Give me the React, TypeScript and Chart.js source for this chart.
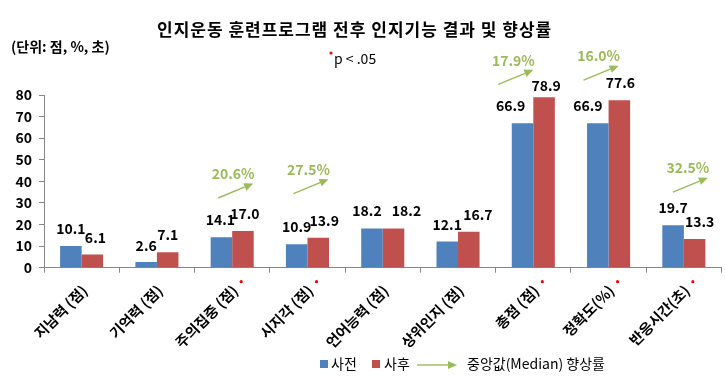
import React, { useEffect, useRef } from 'react';
import { Chart, registerables } from 'chart.js';

Chart.register(...registerables);

const categories = ['지남력 (점)', '기억력 (점)', '주의집중 (점)', '시지각 (점)', '언어능력 (점)', '상위인지 (점)', '총점 (점)', '정확도(%)', '반응시간(초)'];
const preValues = [10.1, 2.6, 14.1, 10.9, 18.2, 12.1, 66.9, 66.9, 19.7];
const postValues = [6.1, 7.1, 17.0, 13.9, 18.2, 16.7, 78.9, 77.6, 13.3];
const medianRates: (number | null)[] = [null, null, 20.6, 27.5, null, null, 17.9, 16.0, 32.5];
const significant = [false, false, true, true, false, false, true, true, true];
const seriesNames = ['사전', '사후'];
const yMin = 0;
const yMax = 80;
const yStep = 10;

const TITLE = '인지운동 훈련프로그램 전후 인지기능 결과 및 향상률';
const UNIT_NOTE = '(단위: 점, %, 초)';
const P_NOTE = 'p < .05';
const RATE_LEGEND = '중앙값(Median) 향상률';

// layout of the arrow annotations (pixel offsets from category centre / bar top)
const arrowLayout: Record<number, { dx: number; lift: number }> = {
  2: { dx: -14, lift: 33 },
  3: { dx: -14, lift: 44 },
  6: { dx: -35, lift: 13 },
  7: { dx: -25, lift: 20 },
  8: { dx: -11, lift: 33 },
};
// manual nudges of the value labels (pixels), as in the original
const labelNudgeX = [
  [0, 0, -1, 0, -5, 0, -12, -10, 0],
  [3, 0, 2, 6, 13, 9, 2, 1, 5],
];
const labelNudgeY = [
  [0, 1, 0, 0, 0, 0, 0, 0, 0],
  [0, 0, 0, 0, 0, 0, 6, 0, 0],
];

const BLUE = '#4F81BD';
const RED = '#C0504D';
const GREEN = '#9BBB59';
const AXIS = '#868686';
const FONT = '"Noto Sans CJK KR", "Noto Sans", sans-serif';

function drawArrow(ctx: CanvasRenderingContext2D, sx: number, sy: number, ex: number, ey: number) {
  ctx.save();
  ctx.strokeStyle = GREEN;
  ctx.fillStyle = GREEN;
  ctx.lineWidth = 1.4;
  const ang = Math.atan2(ey - sy, ex - sx);
  const headLen = 9;
  const hx = ex - Math.cos(ang) * headLen;
  const hy = ey - Math.sin(ang) * headLen;
  ctx.beginPath();
  ctx.moveTo(sx, sy);
  ctx.lineTo(hx, hy);
  ctx.stroke();
  ctx.beginPath();
  ctx.moveTo(ex, ey);
  ctx.lineTo(hx + Math.sin(ang) * 4, hy - Math.cos(ang) * 4);
  ctx.lineTo(hx - Math.sin(ang) * 4, hy + Math.cos(ang) * 4);
  ctx.closePath();
  ctx.fill();
  ctx.restore();
}

function redDot(ctx: CanvasRenderingContext2D, x: number, y: number) {
  ctx.save();
  ctx.fillStyle = '#FF0000';
  ctx.beginPath();
  ctx.arc(x, y, 1.6, 0, Math.PI * 2);
  ctx.fill();
  ctx.restore();
}

const overlayPlugin = {
  id: 'overlay',
  afterDraw(chart: any) {
    const { ctx, scales } = chart;
    const x = scales.x;
    const y = scales.y;
    ctx.save();

    // title
    ctx.fillStyle = '#000';
    ctx.font = `bold 17px ${FONT}`;
    ctx.textAlign = 'left';
    ctx.textBaseline = 'middle';
    (ctx as any).letterSpacing = '1px';
    ctx.fillText(TITLE, 157, 30);
    (ctx as any).letterSpacing = '0px';

    // unit note
    ctx.font = `bold 14px ${FONT}`;
    ctx.textAlign = 'left';
    ctx.fillText(UNIT_NOTE, 11, 47);

    // p note
    redDot(ctx, 331, 53);
    ctx.font = `14px ${FONT}`;
    ctx.fillStyle = '#000';
    ctx.fillText(P_NOTE, 334, 59);

    // data labels
    ctx.font = `bold 14px ${FONT}`;
    ctx.textAlign = 'center';
    ctx.textBaseline = 'alphabetic';
    ctx.fillStyle = '#000';
    chart.data.datasets.forEach((ds: any, di: number) => {
      const meta = chart.getDatasetMeta(di);
      meta.data.forEach((bar: any, i: number) => {
        const v = ds.data[i] as number;
        ctx.fillText(v.toFixed(1), bar.x + labelNudgeX[di][i], bar.y - 12 + labelNudgeY[di][i]);
      });
    });

    // median improvement arrows
    medianRates.forEach((r, i) => {
      if (r == null) return;
      const lay = arrowLayout[i];
      const cx = x.getPixelForValue(i);
      const top = y.getPixelForValue(Math.max(preValues[i], postValues[i]));
      const sx = cx + lay.dx;
      const sy = top - lay.lift;
      drawArrow(ctx, sx, sy, sx + 35, sy - 14.5);
      ctx.font = `bold 14px ${FONT}`;
      ctx.fillStyle = GREEN;
      ctx.textAlign = 'center';
      ctx.textBaseline = 'middle';
      ctx.fillText(`${r.toFixed(1)}%`, sx + 15, sy - 24);
    });

    // significance markers on category labels
    significant.forEach((s, i) => {
      if (!s) return;
      redDot(ctx, x.getPixelForValue(i) + 9, y.bottom + 14);
    });

    // legend
    const ly = 364;
    ctx.font = `14px ${FONT}`;
    ctx.textAlign = 'left';
    ctx.textBaseline = 'middle';
    ctx.fillStyle = BLUE;
    ctx.fillRect(320, ly - 4, 8, 8);
    ctx.fillStyle = '#000';
    ctx.fillText(seriesNames[0], 331, ly);
    ctx.fillStyle = RED;
    ctx.fillRect(372, ly - 4, 8, 8);
    ctx.fillStyle = '#000';
    ctx.fillText(seriesNames[1], 384, ly);
    drawArrow(ctx, 417, ly + 1, 457, ly + 1);
    ctx.fillStyle = '#000';
    ctx.fillText(RATE_LEGEND, 467, ly);

    ctx.restore();
  },
};

export default function App() {
  const ref = useRef<HTMLCanvasElement>(null);
  useEffect(() => {
    if (!ref.current) return;
    const chart = new Chart(ref.current, {
      type: 'bar',
      data: {
        labels: categories,
        datasets: [
          { label: seriesNames[0], data: preValues, backgroundColor: BLUE, categoryPercentage: 0.572, barPercentage: 1.0 },
          { label: seriesNames[1], data: postValues, backgroundColor: RED, categoryPercentage: 0.572, barPercentage: 1.0 },
        ],
      },
      options: {
        responsive: false,
        animation: false,
        layout: { padding: { top: 95, right: 3.5, bottom: 0, left: 0 } },
        plugins: {
          legend: { display: false },
          title: { display: false },
          tooltip: { enabled: false },
        },
        scales: {
          x: {
            grid: { display: true, drawOnChartArea: false, offset: true, tickLength: 5, color: AXIS },
            border: { display: true, color: AXIS },
            ticks: {
              maxRotation: 45,
              minRotation: 45,
              autoSkip: false,
              color: '#000',
              padding: 9,
              labelOffset: 3,
              font: { family: FONT, size: 14.5, weight: 'bold' },
            },
            afterFit: (scale: any) => {
              scale.height = 108.3;
            },
          },
          y: {
            min: yMin,
            max: yMax,
            grid: { display: true, drawOnChartArea: false, tickLength: 5, color: AXIS },
            border: { display: true, color: AXIS },
            ticks: {
              stepSize: yStep,
              color: '#000',
              padding: 7,
              font: { family: FONT, size: 14, weight: 'bold' },
            },
            afterFit: (scale: any) => {
              scale.width = 44;
            },
          },
        },
      },
      plugins: [overlayPlugin],
    });
    return () => chart.destroy();
  }, []);

  return (
    <div style={{ position: 'absolute', left: 0, top: 0, width: 725, height: 376, background: '#fff' }}>
      <canvas ref={ref} width={725} height={376} style={{ display: 'block' }} />
    </div>
  );
}
